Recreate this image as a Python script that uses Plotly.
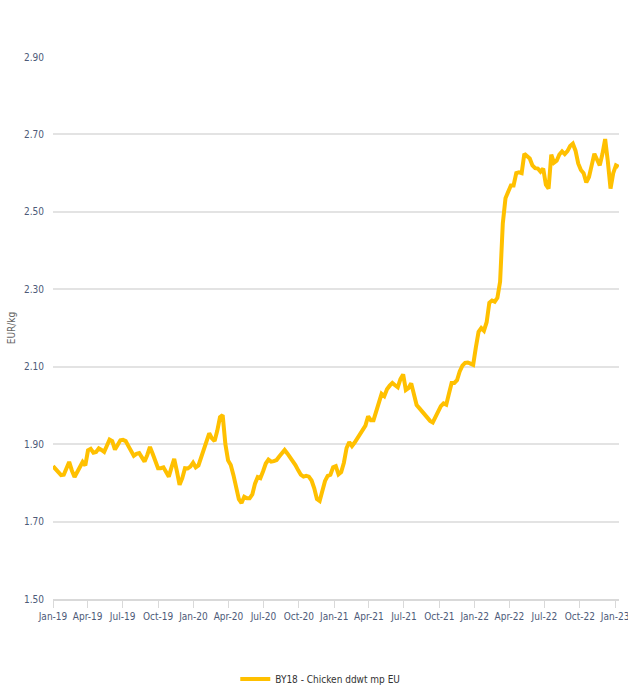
import plotly.graph_objects as go
import pandas as pd

start_date = "2019-01-01"
series_name = "BY18 - Chicken ddwt mp EU"
y_title = "EUR/kg"

prices = [
    1.843, 1.834, 1.825, 1.820, 1.821, 1.835, 1.854, 1.832, 1.815, 1.828,
    1.843, 1.854, 1.845, 1.884, 1.888, 1.878, 1.880, 1.889, 1.885, 1.880,
    1.896, 1.912, 1.908, 1.886, 1.898, 1.910, 1.911, 1.908, 1.895, 1.883,
    1.870, 1.875, 1.877, 1.866, 1.855, 1.872, 1.893, 1.875, 1.855, 1.838,
    1.838, 1.840, 1.828, 1.816, 1.840, 1.862, 1.830, 1.795, 1.812, 1.838,
    1.837, 1.842, 1.852, 1.840, 1.845, 1.866, 1.885, 1.906, 1.928, 1.915,
    1.908, 1.935, 1.970, 1.975, 1.900, 1.858, 1.846, 1.820, 1.785, 1.758,
    1.748, 1.764, 1.760, 1.760, 1.770, 1.798, 1.815, 1.812, 1.830, 1.850,
    1.860, 1.855, 1.856, 1.859, 1.868, 1.876, 1.885, 1.876, 1.867, 1.859,
    1.846, 1.833, 1.821, 1.816, 1.818, 1.816, 1.806, 1.786, 1.758, 1.753,
    1.776, 1.805, 1.818, 1.821, 1.840, 1.843, 1.822, 1.828, 1.852, 1.890,
    1.905, 1.895, 1.904, 1.914, 1.928, 1.938, 1.948, 1.972, 1.962, 1.962,
    1.985, 2.010, 2.030, 2.024, 2.042, 2.051, 2.058, 2.052, 2.047, 2.068,
    2.080, 2.040, 2.045, 2.057, 2.030, 2.001, 1.993, 1.984, 1.975, 1.967,
    1.960, 1.956, 1.970, 1.983, 1.998, 2.005, 2.002, 2.030, 2.058, 2.058,
    2.065, 2.088, 2.103, 2.110, 2.111, 2.108, 2.105, 2.150, 2.190, 2.200,
    2.193, 2.215, 2.265, 2.271, 2.268, 2.278, 2.320, 2.470, 2.535, 2.552,
    2.568, 2.568, 2.600, 2.602, 2.600, 2.650, 2.645, 2.638, 2.620, 2.613,
    2.612, 2.604, 2.612, 2.570, 2.560, 2.648, 2.627, 2.632, 2.648, 2.656,
    2.649, 2.657, 2.670, 2.676, 2.658, 2.625, 2.608, 2.600, 2.576, 2.590,
    2.620, 2.650, 2.635, 2.620, 2.650, 2.688, 2.630, 2.560, 2.600, 2.620,
    2.616,
]
dates = pd.date_range(start_date, periods=len(prices), freq="7D")

y_ticks = [1.50, 1.70, 1.90, 2.10, 2.30, 2.50, 2.70, 2.90]

font_family = "DejaVu Sans Condensed, Liberation Sans Narrow, sans-serif"
label_color = "#4d5a78"

fig = go.Figure()
fig.add_trace(go.Scatter(
    x=dates, y=prices, mode="lines", name=series_name,
    line=dict(color="#FFC000", width=4, shape="linear"),
    showlegend=True,
))

fig.update_layout(
    width=628, height=691,
    margin=dict(l=53, r=9, t=57, b=92, autoexpand=False),
    paper_bgcolor="white", plot_bgcolor="white",
    font=dict(family=font_family, size=10, color=label_color),
    legend=dict(
        orientation="h", xref="container", yref="container",
        x=0.51, xanchor="center", y=0.0174, yanchor="middle",
        font=dict(size=10, color="#333333"),
        itemwidth=30,
    ),
    xaxis=dict(
        type="date", automargin=False,
        range=["2019-01-01", "2023-01-11"],
        tick0="2019-01-01", dtick="M3", tickformat="%b-%y",
        tickangle=0, ticklabeloverflow="allow",
        showgrid=False, showline=True, linecolor="#d9d9d9", linewidth=2,
        ticks="outside", ticklen=7, tickcolor="#d9d9d9", tickwidth=1,
        tickfont=dict(size=10, color=label_color),
        zeroline=False,
    ),
    yaxis=dict(
        automargin=False,
        range=[1.5, 2.9], tickvals=y_ticks,
        ticktext=[f"{v:.2f}" for v in y_ticks],
        showgrid=True, gridcolor="#e3e3e3", gridwidth=2,
        zeroline=False, showline=False,
        ticks="", ticklabelstandoff=8,
        tickfont=dict(size=10, color=label_color),
        title=dict(text=y_title, font=dict(size=10, color="#666666"), standoff=6),
    ),
)

fig.write_html(
    "out.html",
    config={"displayModeBar": False},
    post_script="document.body.style.margin='0';",
)
